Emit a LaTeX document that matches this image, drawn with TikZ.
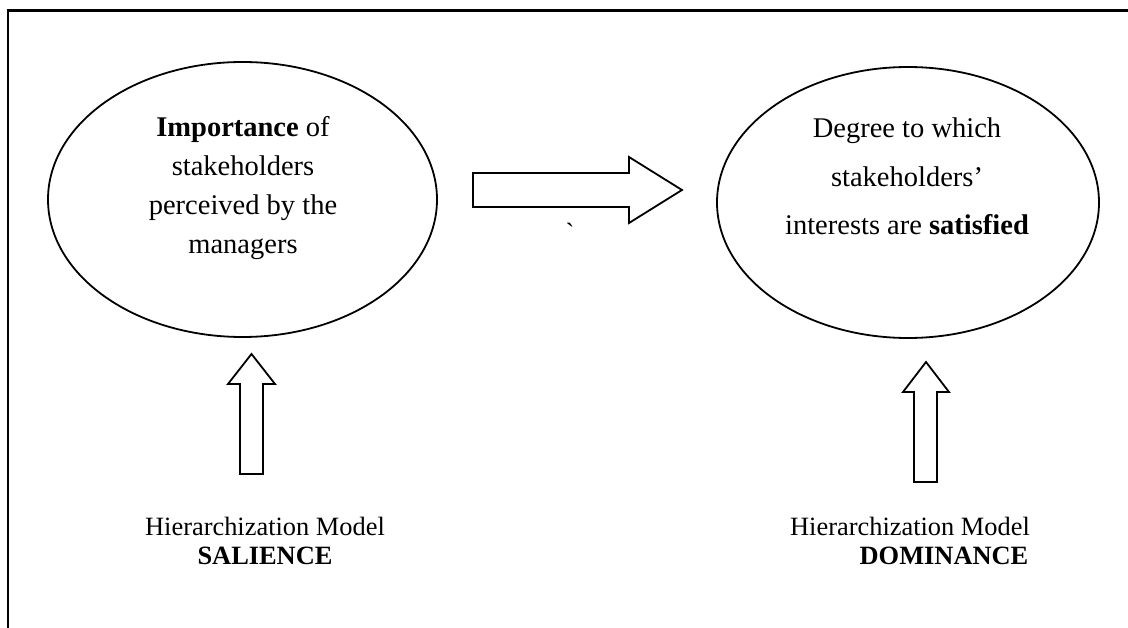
\documentclass[tikz,border=0pt]{standalone}
\usepackage{fontspec}
\setmainfont{Liberation Serif}
\usetikzlibrary{shapes.geometric}

\begin{document}
\begin{tikzpicture}[x=1pt,y=-1pt,
  oval/.style={draw, line width=1.8pt, ellipse, inner sep=0pt},
  blockarrow/.style={draw, line width=1.8pt, line join=miter, fill=white},
  ovaltext/.style={anchor=base, inner sep=0pt, font=\fontsize{28.5}{#1}\selectfont},
  captext/.style={anchor=base, inner sep=0pt, font=\fontsize{26.4}{29}\selectfont}]
  \useasboundingbox (0,0) rectangle (1128,628);

  % frame
  \draw[line width=2.2pt] (8,628) -- (8,10.5) -- (1128,10.5);

  % the two ovals
  \node[oval, minimum width=389pt, minimum height=275pt] (imp) at (242.5,199.5) {};
  \node[oval, minimum width=382pt, minimum height=271pt] (deg) at (908,202.5) {};

  \node[ovaltext=38.7] (imptext) at (243,137)
    {\begin{tabular}[t]{@{}c@{}}\textbf{Importance} of\\ stakeholders\\ perceived by the\\ managers\end{tabular}};
  \node[ovaltext=48.5] (degtext) at (907,138)
    {\begin{tabular}[t]{@{}c@{}}Degree to which\\ stakeholders’\\ interests are \textbf{satisfied}\end{tabular}};

  % block arrow between the ovals
  \draw[blockarrow] (473,173) -- (629,173) -- (629,157) -- (682,190)
    -- (629,223) -- (629,207) -- (473,207) -- cycle;
  \node[captext] (tick) at (570,242) {\textasciigrave};

  % upward block arrows
  \draw[blockarrow] (240,474) -- (240,384) -- (228,384) -- (251.5,354)
    -- (275,384) -- (263,384) -- (263,474) -- cycle;
  \draw[blockarrow] (914,482) -- (914,392) -- (903,392) -- (926,362)
    -- (949,392) -- (937,392) -- (937,482) -- cycle;

  % model captions
  \node[captext] (sal) at (265,535)
    {\begin{tabular}[t]{@{}c@{}}Hierarchization Model\\ \textbf{SALIENCE}\end{tabular}};
  \node[captext] (domtop) at (910,535) {Hierarchization Model};
  \node[captext] (dom) at (944,564) {\textbf{DOMINANCE}};
\end{tikzpicture}
\end{document}
